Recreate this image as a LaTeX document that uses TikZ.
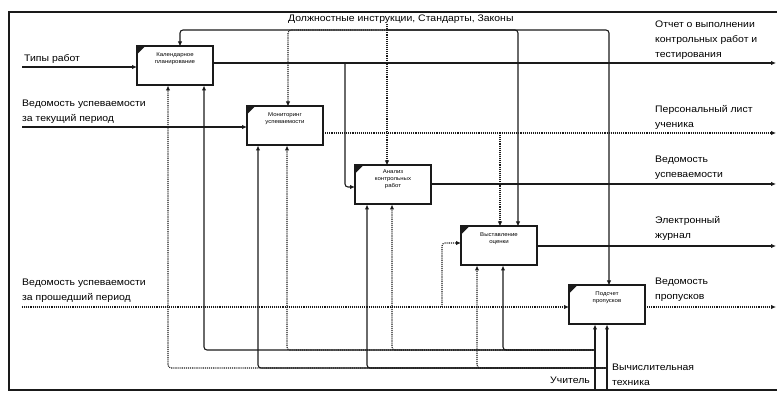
\documentclass[tikz,border=0pt]{standalone}
\usepackage{fontspec}
\setmainfont{Liberation Sans}[FakeStretch=1.1]
\usetikzlibrary{arrows.meta,positioning}
\definecolor{c1a1a1a}{RGB}{26,26,26}

\tikzset{
  blk/.style={draw=c1a1a1a,line width=2pt,minimum width=76pt,minimum height=39pt,
    inner sep=0pt,outer sep=0pt},
  btxt/.style={font=\fontsize{5.5}{7}\selectfont,align=center,inner sep=0pt,anchor=north},
  arr/.style={draw=c1a1a1a,line width=1.1pt,rounded corners=3pt,-{Latex[length=5pt,width=4.5pt]}},
  tarr/.style={arr,densely dotted},
  lbl/.style={font=\fontsize{9.5}{15}\selectfont,align=left,inner sep=0pt},
}

\begin{document}
\begin{tikzpicture}[x=1pt,y=-1pt]
\useasboundingbox (0,0) rectangle (777,395);
\path[draw=c1a1a1a,line width=2pt] (779,12) -- (9,12) -- (9,390) -- (779,390);

% blocks
\path (175,66) node[blk] (blk1) {};
\path (285,126) node[blk] (blk2) {};
\path (393,185) node[blk] (blk3) {};
\path (499,246) node[blk] (blk4) {};
\path (607,305) node[blk] (blk5) {};
\foreach \b in {blk1,blk2,blk3,blk4,blk5}
  \path[fill=c1a1a1a] (\b.north west) -- ++(8,0) -- ++(-8,8) -- cycle;
\path ([yshift=-6pt]blk1.north) node[btxt] (txt1) {Календарное\\планирование};
\path ([yshift=-6pt]blk2.north) node[btxt] (txt2) {Мониторинг\\успеваемости};
\path ([yshift=-4pt]blk3.north) node[btxt] (txt3) {Анализ\\контрольных\\работ};
\path ([yshift=-6pt]blk4.north) node[btxt] (txt4) {Выставление\\оценки};
\path ([yshift=-6pt]blk5.north) node[btxt] (txt5) {Подсчет\\пропусков};

% labels
\path (288,24) node[lbl,anchor=south west] (ctlbl) {Должностные инструкции, Стандарты, Законы};
\path (24,64) node[lbl,anchor=south west] (lblin1) {Типы работ};
\path (22,124) node[lbl,anchor=south west] (lblin2) {Ведомость успеваемости\\за текущий период};
\path (22,303) node[lbl,anchor=south west] (lblin3) {Ведомость успеваемости\\за прошедший период};
\path (655,60) node[lbl,anchor=south west] (lblout1) {Отчет о выполнении\\контрольных работ и\\тестирования};
\path (655,130) node[lbl,anchor=south west] (lblout2) {Персональный лист\\ученика};
\path (655,180) node[lbl,anchor=south west] (lblout3) {Ведомость\\успеваемости};
\path (655,241) node[lbl,anchor=south west] (lblout4) {Электронный\\журнал};
\path (655,302) node[lbl,anchor=south west] (lblout5) {Ведомость\\пропусков};
\path (590,384) node[lbl,anchor=south east] (lblteach) {Учитель};
\path (612,386) node[lbl,anchor=south west] (lbltech) {Вычислительная\\техника};

% free ends and branch points
\coordinate (in1) at (22,67);
\coordinate (in2) at (22,127);
\coordinate (in3) at (22,307);
\coordinate (out1) at (776,63);
\coordinate (out2) at (776,133);
\coordinate (out3) at (776,184);
\coordinate (out4) at (776,246);
\coordinate (out5) at (776,307);
\coordinate (cbus) at (387,30);
\coordinate (j1) at (345,63);
\coordinate (j2) at (500,133);
\coordinate (j3) at (442,307);
\coordinate (mteach) at (595,390);
\coordinate (mtech) at (607,390);
\coordinate (bteach) at (595,350);
\coordinate (btech) at (607,368);

% inputs
\path[arr] (in1) -- ([yshift=-1pt]blk1.west);
\path[arr] (in2) -- ([yshift=-1pt]blk2.west);
\path[tarr] (in3) -- ([yshift=-2pt]blk5.west);
\path[tarr] (j3) |- ([yshift=3pt]blk4.west);
\path[arr] (j1) |- ([yshift=-2pt]blk3.west);

% controls
\path[tarr] (ctlbl.south -| cbus) -- ([xshift=-6pt]blk3.north);
\path[arr] (cbus) -| ([xshift=5pt]blk1.north);
\path[tarr] (cbus) -| ([xshift=3pt]blk2.north);
\path[arr] (cbus) -| ([xshift=19pt]blk4.north);
\path[arr] (cbus) -| ([xshift=2pt]blk5.north);
\path[tarr] (j2) -- ([xshift=1pt]blk4.north);

% outputs
\path[arr] ([yshift=3pt]blk1.east) -- (out1);
\path[tarr] ([yshift=-7pt]blk2.east) -- (out2);
\path[arr] ([yshift=1pt]blk3.east) -- (out3);
\path[arr] (blk4.east) -- (out4);
\path[tarr] ([yshift=-2pt]blk5.east) -- (out5);

% mechanisms
\path[arr] (mteach) -- ([xshift=-12pt]blk5.south);
\path[arr] (mtech) -- (blk5.south);
\path[arr] (bteach) -| ([xshift=29pt]blk1.south);
\path[tarr] (bteach) -| ([xshift=2pt]blk2.south);
\path[tarr] (bteach) -| ([xshift=-1pt]blk3.south);
\path[arr] (bteach) -| ([xshift=4pt]blk4.south);
\path[tarr] (btech) -| ([xshift=-7pt]blk1.south);
\path[arr] (btech) -| ([xshift=-27pt]blk2.south);
\path[arr] (btech) -| ([xshift=-26pt]blk3.south);
\path[tarr] (btech) -| ([xshift=-22pt]blk4.south);
\end{tikzpicture}
\end{document}
